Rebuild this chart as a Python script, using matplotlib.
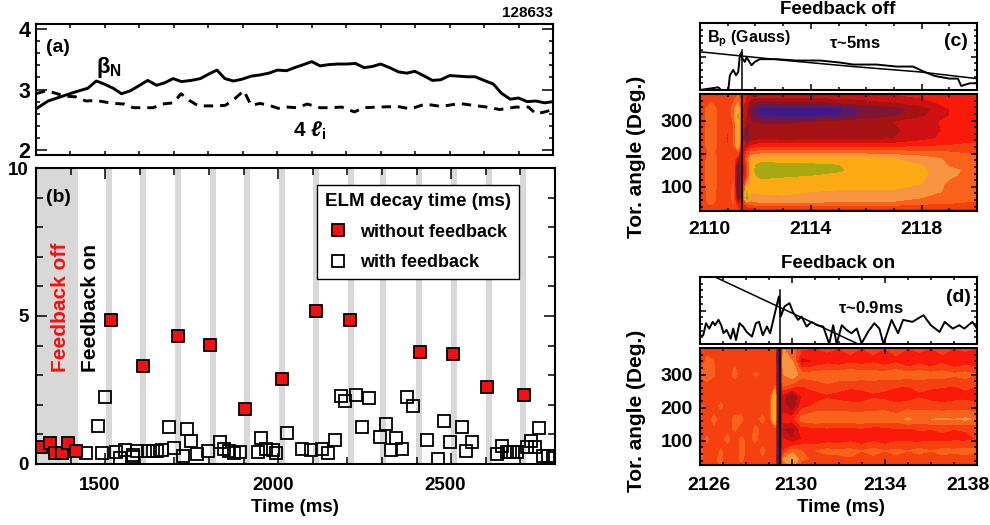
import numpy as np
from matplotlib import pyplot as plt
from matplotlib.colors import ListedColormap, BoundaryNorm
from matplotlib.lines import Line2D
from matplotlib.ticker import MultipleLocator
from matplotlib.transforms import ScaledTranslation

plt.rcParams['font.family'] = ['Liberation Sans', 'DejaVu Sans']
plt.rcParams['font.weight'] = 'bold'
plt.rcParams['mathtext.fontset'] = 'custom'
plt.rcParams['mathtext.rm'] = 'Liberation Sans'
plt.rcParams['mathtext.bf'] = 'Liberation Sans:bold'
plt.rcParams['mathtext.it'] = 'Liberation Sans:italic'
plt.rcParams['mathtext.fallback'] = 'stix'

# (a) beta_N and 4 li
beta_t = [1300, 1335, 1377, 1414, 1450, 1475, 1498, 1524, 1548, 1574, 1598, 1624, 1650, 1673, 1698, 1722, 1750, 1777, 1803, 1825,
          1848, 1873, 1898, 1924, 1950, 1976, 2000, 2027, 2050, 2076, 2100, 2124, 2150, 2176, 2203, 2227, 2252, 2276, 2300, 2326,
          2352, 2376, 2399, 2424, 2450, 2474, 2500, 2526, 2550, 2574, 2600, 2627, 2650, 2676, 2700, 2725, 2750, 2776, 2800]
beta_n = [2.68, 2.81, 2.89, 2.96, 3.02, 3.14, 3.09, 3.02, 2.93, 2.98, 3.06, 3.15, 3.07, 3.11, 3.18, 3.13, 3.15, 3.18, 3.26, 3.32,
          3.18, 3.14, 3.17, 3.22, 3.24, 3.27, 3.32, 3.31, 3.36, 3.41, 3.46, 3.39, 3.41, 3.42, 3.42, 3.43, 3.36, 3.38, 3.42, 3.36,
          3.29, 3.27, 3.30, 3.23, 3.15, 3.16, 3.23, 3.22, 3.21, 3.21, 3.15, 3.09, 2.94, 2.84, 2.86, 2.80, 2.81, 2.78, 2.80]
li_t = [1300, 1329, 1356, 1382, 1414, 1445, 1474, 1503, 1530, 1556, 1582, 1608, 1640, 1666, 1698, 1721, 1745, 1771, 1798, 1827,
        1850, 1877, 1903, 1924, 1950, 1976, 2003, 2029, 2056, 2087, 2124, 2155, 2187, 2224, 2250, 2292, 2350, 2387, 2429, 2476,
        2529, 2566, 2608, 2645, 2692, 2729, 2750, 2776, 2800]
li_4 = [2.93, 2.98, 2.94, 2.89, 2.88, 2.81, 2.82, 2.79, 2.77, 2.76, 2.70, 2.70, 2.70, 2.76, 2.78, 2.93, 2.82, 2.73, 2.73, 2.73,
        2.74, 2.85, 2.98, 2.74, 2.77, 2.74, 2.69, 2.71, 2.70, 2.76, 2.70, 2.70, 2.71, 2.63, 2.70, 2.71, 2.72, 2.68, 2.76, 2.72,
        2.77, 2.74, 2.71, 2.67, 2.71, 2.71, 2.60, 2.63, 2.67]

# (b) ELM decay times
stripe_t = [1511, 1610, 1710, 1811, 1909, 2010, 2109, 2210, 2302, 2407, 2508, 2608, 2707]
red_t = [1315, 1340, 1355, 1376, 1393, 1415, 1516, 1609, 1710, 1803, 1905, 2012, 2109, 2208, 2411, 2506, 2603, 2710]
red_v = [0.58, 0.72, 0.36, 0.36, 0.72, 0.45, 4.85, 3.31, 4.31, 4.03, 1.87, 2.86, 5.17, 4.85, 3.78, 3.70, 2.61, 2.32]
open_t = [1500, 1479, 1445, 1492, 1531, 1542, 1557, 1581, 1581, 1593, 1625, 1637, 1651, 1665, 1685, 1699, 1724, 1737, 1749, 1766,
          1796, 1832, 1843, 1858, 1872, 1890, 1941, 1951, 1965, 1986, 1994, 2025, 2068, 2094, 2126, 2145, 2165, 2181, 2193, 2224,
          2261, 2243, 2311, 2294, 2340, 2325, 2357, 2429, 2371, 2390, 2461, 2480, 2497, 2532, 2559, 2543, 2631, 2647, 2660, 2670,
          2679, 2691, 2718, 2730, 2742, 2755, 2766, 2781, 2794]
open_v = [2.25, 1.27, 0.36, 0.37, 0.42, 0.19, 0.47, 0.30, 0.23, 0.45, 0.45, 0.43, 0.45, 0.47, 1.26, 0.53, 0.28, 1.18, 0.77, 0.33,
          0.44, 0.73, 0.52, 0.45, 0.36, 0.42, 0.41, 0.87, 0.50, 0.47, 0.36, 1.06, 0.52, 0.47, 0.51, 0.38, 0.81, 2.30, 2.12, 2.33,
          2.23, 1.24, 1.34, 0.92, 0.87, 0.47, 0.52, 0.81, 2.25, 1.96, 0.16, 1.45, 0.74, 1.26, 0.75, 0.45, 0.34, 0.61, 0.42, 0.42,
          0.42, 0.42, 0.56, 0.79, 0.56, 1.23, 0.27, 0.27, 0.20]

# (c) Bp trace and decay fit, feedback off
c_t = [2110.0, 2110.66, 2110.76, 2111.02, 2111.08, 2111.2, 2111.3, 2111.38, 2111.44, 2111.5, 2111.53, 2111.62, 2111.68, 2111.86,
       2111.98, 2112.16, 2112.76, 2113.48, 2114.33, 2115.05, 2115.53, 2116.37, 2117.09, 2117.69, 2118.05, 2118.47, 2119.0, 2119.31,
       2119.43, 2119.73, 2120.0]
c_b = [0, 4, 0, 0, 22, 30, 22, 27, 52, 56, 47, 42, 49, 37, 42, 46, 46, 44, 44, 41, 38, 38, 35, 35, 28, 21, 17, 17, 6, 10, 10]
c_fit_t = [2110.0, 2113.13, 2115.53, 2117.93, 2120.0]
c_fit = [57, 44, 35, 27, 17]
c_ylim = [0, 100]
c_spike = 2111.53

# (d) Bp trace and decay fit, feedback on
d_t = [2126.0, 2126.14, 2126.26, 2126.4, 2126.55, 2126.65, 2126.8, 2126.92, 2127.02, 2127.15, 2127.33, 2127.44, 2127.56, 2127.71, 2127.87,
       2128.02, 2128.25, 2128.42, 2128.56, 2128.72, 2128.9, 2129.04, 2129.36, 2129.42, 2129.5, 2129.66, 2129.88, 2130.02, 2130.25, 2130.4,
       2130.62, 2130.83, 2131.08, 2131.34, 2131.6, 2131.77, 2131.92, 2132.14, 2132.35, 2132.56, 2132.79, 2133.0, 2133.28, 2133.55, 2133.77,
       2133.95, 2134.3, 2134.58, 2134.8, 2135.2, 2135.68, 2136.0, 2136.38, 2136.6, 2136.95, 2137.23, 2137.45, 2137.8, 2138.0]
d_b = [11, 13, 31, 23, 33, 28, 36, 28, 16, 21, 8, 23, 6, 31, 26, 18, 11, 31, 33, 13, 26, 16, 63, 71, 41, 56, 61, 48, 36, 41,
       26, 33, 28, 26, 0, 28, 0, 28, 21, 16, 23, 1, 18, 31, 23, 0, 36, 16, 36, 33, 43, 28, 18, 33, 23, 28, 23, 33, 23]
d_fit_t = [2126.65, 2132.85]
d_fit = [100, 0]
d_ylim = [0, 100]
d_spike = 2129.48

map_colors = ['#3b1a8a', '#5a1a66', '#7f1535', '#a51212', '#cf1010', '#fb1a0a',
              '#f5400f', '#f9621a', '#f79440', '#fbaa14', '#a8a812', '#c8d020']
map_levels = list(range(13))

c_map_t = [2110, 2110.4, 2111.0, 2111.2, 2111.38, 2111.5, 2111.68, 2111.85, 2112.2, 2113, 2114, 2115, 2115.8, 2117, 2118, 2119, 2120]
c_map_a = [27, 35, 50, 65, 85, 110, 135, 150, 165, 185, 205, 225, 245, 270, 295, 315, 335, 355, 380]
c_map = [
    [6, 6, 6, 6, 6, 5.5, 5.5, 5.5, 5.5, 5.5, 5.5, 5.5, 5.5, 5.5, 5.5, 5.5, 5.5],
    [6, 6.5, 6, 6.5, 6, 5.5, 5.5, 5.8, 6, 6, 6, 6, 6, 6, 6, 6, 6],
    [6.5, 7.2, 6, 7, 5, 5, 7, 7.5, 7.8, 7.8, 7.8, 7.7, 7.7, 7.6, 7.2, 7, 6.8],
    [6.5, 7.4, 6, 7.5, 1.5, 4, 11, 8.5, 8.8, 8.8, 8.7, 8.6, 8.6, 8.5, 7.9, 7.5, 7.2],
    [6.5, 7.4, 6, 7.5, 1, 4, 10, 9, 9.1, 9.2, 9, 8.9, 8.9, 8.9, 8.7, 7.7, 7.3],
    [6.5, 7.5, 6, 7, 1, 4, 8, 9.2, 9.3, 9.3, 9.3, 9.3, 9.3, 9.3, 9, 7.8, 7.5],
    [6.5, 7.5, 6, 7, 0.8, 4, 6, 9.5, 10.5, 10.2, 10, 9.8, 9.6, 9.5, 9.2, 8.2, 7.5],
    [6.5, 7.5, 6, 7, 0.8, 4, 6, 9.5, 11, 10.6, 10.5, 10.1, 9.7, 9.5, 9.2, 8.2, 7.7],
    [6.5, 7.5, 6, 7, 1.5, 4, 6, 9.5, 10.5, 10.3, 10.2, 10, 9.7, 9.5, 9, 7.9, 7.5],
    [6.5, 7.4, 6.2, 7, 4, 4, 7, 9, 9.3, 9.3, 9.3, 9.3, 9.3, 9, 8.5, 7.8, 7.3],
    [6.5, 7.2, 6.2, 7, 7, 3, 6, 7, 7.5, 7.5, 7.5, 7.5, 7.5, 7.3, 7.2, 7, 6.8],
    [6.5, 7.5, 6, 7, 9.2, 4.5, 4, 5, 5.5, 5.5, 5.5, 5.5, 5.5, 5.5, 5.7, 6, 6.3],
    [6.5, 7.5, 5.8, 7, 9.5, 5, 1, 3.5, 3.8, 3.6, 3.7, 3.8, 3.8, 4, 4.7, 5.3, 5.6],
    [6.5, 7.5, 6, 7, 9.5, 5, 2, 3.5, 3.6, 3.5, 3.6, 3.6, 3.6, 3.8, 4.5, 5.2, 5.5],
    [6.5, 7.5, 6, 7, 9.8, 5, 3.5, 3, 2.8, 2.8, 3, 3.3, 3.5, 4, 4.5, 5.3, 5.5],
    [6.5, 7.5, 6, 7.5, 10.3, 5, 4, 2, 1, 0.7, 0.8, 1, 2.2, 2.8, 3.8, 5, 5.5],
    [6.5, 7.5, 6, 7.5, 9.5, 5, 4, 2, 0.5, 0.5, 0.5, 0.7, 2, 2.5, 3.5, 5, 5.5],
    [6, 7, 6, 7, 8, 6, 4.5, 3, 2.5, 2.8, 2.8, 3, 3.5, 4, 4.5, 5.5, 5.5],
    [6, 7, 6, 6.5, 7, 6, 5, 5, 5, 5, 5, 5, 5, 5, 5.5, 5.5, 5.5],
]

d_map_t = [2126, 2126.3, 2126.6, 2126.9, 2127.2, 2127.5, 2127.8, 2128.1, 2128.4, 2128.7, 2129, 2129.25, 2129.36, 2129.46, 2129.6, 2130, 2130.4,
           2131, 2131.5, 2132, 2132.5, 2133, 2133.5, 2134, 2134.5, 2135, 2135.5, 2136, 2136.5, 2137, 2137.5, 2138]
d_map_a = [27, 45, 70, 105, 135, 165, 205, 235, 265, 300, 340, 380]
d_map = [
    [6.4, 6.8, 6.4, 7.2, 6.5, 6.3, 6.9, 6.4, 6.6, 6.3, 6.5, 6.5, 1, 1, 7.5, 8.5, 6.5, 6.3, 6.1, 6.3, 6.4, 6.2, 6.3, 6.2, 6.4, 6.2, 6.1, 6.2, 6.3, 6.2, 6.3, 6.2],
    [7.2, 6.4, 6.7, 7.3, 6.3, 6.6, 7.2, 6.4, 6.3, 6.8, 6.5, 6, 0.5, 0.5, 8, 9.5, 7.2, 6.8, 6.6, 6.8, 6.9, 6.8, 6.7, 6.6, 6.8, 6.6, 6.4, 6.5, 6.7, 6.5, 6.6, 6.5],
    [7.3, 6.5, 6.3, 7.1, 6.5, 6.3, 7.3, 6.7, 6.4, 7.3, 6.5, 6.5, 0.5, 0.5, 6, 7.5, 7, 7, 7.3, 7.2, 7.3, 7, 7.4, 7, 7.2, 7, 7.4, 7, 7.3, 7.2, 7.4, 7.2],
    [6.5, 7.2, 6.4, 6.6, 7.3, 6.4, 7.2, 6.6, 7.3, 6.4, 6.5, 6.5, 0.8, 0.8, 5, 4, 5, 5, 5.4, 5.3, 5.6, 5.2, 5.6, 5.2, 5.7, 5.7, 5.5, 5.8, 5.6, 5.8, 5.7, 6],
    [6.3, 6.5, 6.8, 6.3, 6.6, 7.2, 6.4, 6.3, 7.3, 6.6, 6.5, 6.5, 0.8, 0.8, 4, 3.5, 5.5, 5.5, 5.8, 5.5, 5.7, 5.8, 5.5, 5.5, 5.9, 5.8, 6.1, 6, 6.2, 6, 6.1, 6.2],
    [7.2, 6.4, 7.3, 6.5, 6.3, 7.3, 7.2, 6.3, 6.5, 7.3, 6.5, 10, 0.8, 0.8, 5.5, 5.5, 7.5, 8, 7.6, 7.8, 7.7, 7.8, 7.6, 7.9, 7.5, 8.2, 7.6, 8, 8.1, 8, 8.2, 7.8],
    [7.3, 6.3, 6.5, 7.2, 6.5, 6.3, 6.6, 6.9, 6, 6.4, 6.5, 10, 0.8, 0.8, 4.5, 3, 5.5, 6.2, 6.6, 6.5, 6.4, 6.3, 6.6, 6.5, 6.3, 6.5, 6.7, 6.5, 6.3, 6.5, 6.4, 6.3],
    [6.5, 6.3, 6, 6.6, 6.5, 6.8, 6, 6.4, 6, 6.3, 6, 10, 0.8, 0.8, 4.5, 2.5, 5, 5.5, 5.8, 5.6, 5.4, 5.5, 5.8, 5.7, 5.3, 5.5, 5.8, 5.5, 5.4, 5.5, 5.7, 5.5],
    [6.5, 6.8, 6.5, 6.2, 6, 6.5, 6.5, 6.2, 6, 6.7, 6.5, 7, 0.8, 0.8, 7, 6.5, 6, 6.5, 6.8, 6.5, 6.2, 6.3, 6.5, 6.3, 6.1, 6, 6.3, 6.2, 6.1, 6, 6.2, 6],
    [7.2, 7.3, 7.1, 6.5, 6.5, 7.3, 6.5, 6.3, 7.2, 6.7, 6.5, 7, 0.5, 0.5, 8, 8.8, 7.5, 7.5, 7.7, 7.6, 7.8, 7.6, 7.5, 7.5, 7.7, 7.5, 7.6, 7.4, 7.5, 7.2, 7.4, 7],
    [6.5, 7.2, 7, 6.4, 6.5, 6.8, 6.5, 6.3, 6, 6.6, 6.5, 6, 0.5, 0.5, 8.5, 8, 4.5, 5, 5.6, 5.3, 5.7, 5.5, 5.8, 5.3, 5.8, 4.8, 5.6, 5, 5.7, 5, 5.4, 5.2],
    [6.5, 6.7, 6.5, 6.3, 6.5, 6.7, 6.5, 6.3, 6.5, 6.8, 6.5, 6, 1, 1, 8, 7.5, 6.2, 6, 6.2, 6, 6.3, 6, 6.2, 6, 6.3, 6, 6.2, 6, 6.3, 6, 6.2, 6],
]

W, H = 990, 525
fig = plt.figure(figsize=(W / 100, H / 100), dpi=100)


def box(x0, y0, x1, y1):
    # pixel box of the picture -> axes
    return fig.add_axes([x0 / W, 1 - y1 / H, (x1 - x0) / W, (y1 - y0) / H])


def label(x, y, s, **kw):
    kw.setdefault('ha', 'center')
    kw.setdefault('va', 'center')
    return fig.text(x / W, 1 - y / H, s, **kw)


def style(ax, size=14):
    ax.tick_params(which='both', direction='in', top=True, right=True, width=1.1, labelsize=size)
    ax.tick_params(which='major', length=6)
    ax.tick_params(which='minor', length=3)
    for s in ax.spines.values():
        s.set_linewidth(1.5)


def shift_labels(ax, dx):
    # tick labels sit off their ticks in the original
    for lab, d in zip(ax.get_xticklabels(), dx):
        lab.set_transform(lab.get_transform() + ScaledTranslation(d / 100, 0, fig.dpi_scale_trans))


# ---- panel (a)
ax = box(36, 24, 553, 155)
ax.plot(beta_t, beta_n, color='black', lw=2.1)
ax.plot(li_t, li_4, color='black', lw=2.1, ls=(0, (3.2, 2.4)))
ax.set_xlim(1300, 2800)
ax.set_ylim(1.92, 4.08)
ax.xaxis.set_major_locator(MultipleLocator(100))
ax.set_xticklabels([])
ax.yaxis.set_major_locator(MultipleLocator(1))
ax.yaxis.set_minor_locator(MultipleLocator(0.2))
style(ax, 15.5)
ax.tick_params(axis='x', which='major', length=3)
ax.tick_params(axis='y', which='major', length=8, pad=4)
label(553, 13, '128633', fontsize=11, ha='right')
label(58, 47, '(a)', fontsize=14)
label(109, 67, r'$\mathrm{\beta}_{\mathbf{N}}$', fontsize=16)
label(310, 131, r'$\mathbf{4}\ \ell_{\mathbf{i}}$', fontsize=15)

# ---- panel (b)
ax = box(36, 168, 555, 464)
ax.axvspan(1300, 1421, color='#d8d8d8', lw=0, zorder=0)
for t in stripe_t:
    ax.axvspan(t - 8.5, t + 8.5, color='#d8d8d8', lw=0, zorder=0)
ax.plot(open_t, open_v, ls='none', marker='s', ms=8, mfc='none', mec='black', mew=1.3)
ax.plot(red_t, red_v, ls='none', marker='s', ms=8, mfc='#f50f0f', mec='black', mew=1.3)
ax.set_xlim(1300, 2800)
ax.set_ylim(0, 10)
ax.set_xticks([1500, 2000, 2500])
ax.xaxis.set_minor_locator(MultipleLocator(100))
ax.yaxis.set_major_locator(MultipleLocator(5))
ax.yaxis.set_minor_locator(MultipleLocator(1))
style(ax, 13.5)
ax.tick_params(axis='both', which='minor', length=5)
ax.tick_params(axis='both', which='major', length=8)
ax.tick_params(axis='x', which='major', pad=9)
ax.tick_params(axis='y', which='major', pad=5.5)
shift_labels(ax, [-6, -5, -6])
label(58, 197, '(b)', fontsize=14)
label(61, 307, 'Feedback off', color='#f51010', rotation=90, fontsize=15)
label(90, 308, 'Feedback on', color='black', rotation=90, fontsize=15)
label(295, 507, 'Time (ms)', fontsize=13.5)
handles = [Line2D([], [], ls='none', marker='s', ms=8, mfc='#f50f0f', mec='black', mew=1.3),
           Line2D([], [], ls='none', marker='s', ms=8, mfc='none', mec='black', mew=1.3)]
leg = ax.legend(handles, ['without feedback', 'with feedback'], title='ELM decay time (ms)', loc='upper left',
                bbox_to_anchor=((317 - 36) / 519, (464 - 185) / 296), fontsize=13, title_fontsize=13.5, fancybox=False,
                framealpha=1, edgecolor='black', borderaxespad=0, alignment='left', handletextpad=0.55, handlelength=1.4,
                labelspacing=0.75, borderpad=0.45)
leg.get_frame().set_linewidth(1)
leg.get_title().set_fontweight('bold')

# ---- panels (c) and (d)
cmap = ListedColormap(map_colors)
norm = BoundaryNorm(map_levels, cmap.N)
panels = [
    (23, 90, 94, 211, (2110, 2120), c_t, c_b, c_fit_t, c_fit, c_ylim, c_spike, 0.6, c_map_t, c_map_a, c_map, 7),
    (277, 344, 348, 465, (2126, 2138), d_t, d_b, d_fit_t, d_fit, d_ylim, d_spike, 0.8, d_map_t, d_map_a, d_map, 9),
]
for y0, y1, y2, y3, xl, t, b, ft, f, yl, spike, top, mt, ma, m, xpad in panels:
    ax = box(700, y0, 977, y1)
    ax.plot(t, b, color='black', lw=1.4)
    ax.plot(ft, f, color='black', lw=1.1)
    ax.axvline(spike, color='black', lw=1.1, ymax=top)
    ax.set_xlim(*xl)
    ax.set_ylim(*yl)
    ax.set_xticks(np.arange(xl[0], xl[1] + 1, 4))
    ax.xaxis.set_minor_locator(MultipleLocator(1))
    ax.yaxis.set_major_locator(MultipleLocator(50))
    ax.yaxis.set_minor_locator(MultipleLocator(10))
    ax.set_xticklabels([])
    ax.set_yticklabels([])
    style(ax)
    ax.tick_params(which='major', length=4)
    ax.tick_params(which='minor', length=2)

    ax = box(700, y2, 977, y3)
    ax.contourf(mt, ma, m, levels=map_levels, cmap=cmap, norm=norm)
    ax.axvline(spike, color='black', lw=1.4)
    ax.set_xlim(*xl)
    ax.set_ylim(27, 380)
    ax.set_xticks(np.arange(xl[0], xl[1] + 1, 4))
    ax.xaxis.set_minor_locator(MultipleLocator(1))
    ax.set_yticks([100, 200, 300])
    ax.yaxis.set_minor_locator(MultipleLocator(20))
    style(ax, 14)
    ax.tick_params(which='major', length=4)
    ax.tick_params(which='minor', length=2)
    ax.tick_params(axis='x', which='major', pad=xpad)
    ax.tick_params(axis='y', which='major', pad=5)
    shift_labels(ax, [9, 4, 0, -9] if xl[0] == 2126 else [9, 0, 0])
    label(637, (y2 + y3) / 2 + 4, 'Tor. angle (Deg.)', rotation=90, fontsize=15)

label(838, 9, 'Feedback off', fontsize=13.5)
label(838, 263, 'Feedback on', fontsize=13.5)
label(841, 508, 'Time (ms)', fontsize=13.5)
label(749, 39, r'$\mathbf{B}_{\mathbf{p}}$ (Gauss)', fontsize=11.5)
label(855, 43, r'$\mathrm{\tau}$~5ms', fontsize=12)
label(871, 308, r'$\mathrm{\tau}$~0.9ms', fontsize=12)
label(956, 42, '(c)', fontsize=14)
label(958, 297, '(d)', fontsize=14)

fig.savefig('out.png', dpi=100)
